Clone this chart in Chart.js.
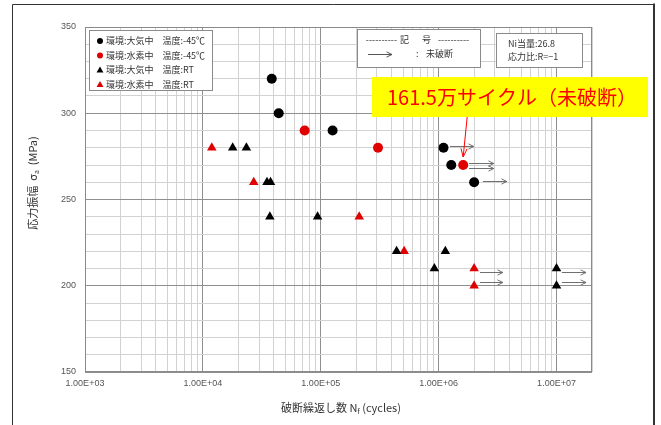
<!DOCTYPE html>
<html>
<head>
<meta charset="utf-8">
<script src="https://cdn.jsdelivr.net/npm/chart.js@4.4.0/dist/chart.umd.min.js"></script>
<style>
  html, body { margin: 0; padding: 0; background: #fff; }
  #wrap { width: 661px; height: 425px; }
</style>
</head>
<body>
<div id="wrap"><canvas id="snChart" width="661" height="425"></canvas></div>
<script>
// S-N data (N in cycles, stress amplitude in MPa)
const seriesLabels = ['環境:大気中　温度:-45℃', '環境:水素中　温度:-45℃', '環境:大気中　温度:RT', '環境:水素中　温度:RT'];

const airColdN = [3.84e4, 4.4e4, 1.26e5, 1.1e6, 1.28e6, 2.0e6];
const airColdS = [320, 300, 290, 280, 270, 260];

const h2ColdN = [7.3e4, 3.06e5, 1.615e6];
const h2ColdS = [290, 280, 270];

const airRtN = [1.79e4, 2.34e4, 3.5e4, 3.75e4, 3.7e4, 9.4e4, 4.4e5, 1.14e6, 9.2e5, 1.0e7, 1.0e7];
const airRtS = [280, 280, 260, 260, 240, 240, 220, 220, 210, 210, 200];

const h2RtN = [1.19e4, 2.7e4, 2.12e5, 5.1e5, 2.0e6, 2.0e6];
const h2RtS = [280, 260, 240, 220, 210, 200];

// run-out arrows (未破断)
const runoutFromN = [1.25e6, 1.81e6, 1.81e6, 2.38e6, 2.24e6, 2.24e6, 1.11e7, 1.11e7];
const runoutToN   = [1.99e6, 2.94e6, 2.94e6, 3.79e6, 3.51e6, 3.51e6, 1.78e7, 1.78e7];
const runoutS     = [281, 271, 268.5, 261, 208, 202, 208, 202];

const xTickValues = [1e3, 1e4, 1e5, 1e6, 1e7];
const xTickLabels = ['1.00E+03', '1.00E+04', '1.00E+05', '1.00E+06', '1.00E+07'];
const yTickLabels = ['150', '200', '250', '300', '350'];

const noteText = '161.5万サイクル（未破断）';

const tickFont = { family: "'Liberation Sans', 'Noto Sans CJK JP'", size: 9 };
const jp = "'Noto Sans CJK JP'";

// minor gridline positions for the log axis
const xGrid = [];
for (let e = 3; e < 7; e++) {
    for (let m = 1; m <= 9; m++) xGrid.push(m * Math.pow(10, e));
}
xGrid.push(1e7, 2e7);

function toPoints(ns, ss) {
    return ns.map((n, i) => ({ x: n, y: ss[i] }));
}

function drawArrow(ctx, x1, y1, x2, y2, head, spread, color) {
    const ang = Math.atan2(y2 - y1, x2 - x1);
    ctx.strokeStyle = color;
    ctx.lineWidth = 1;
    ctx.beginPath();
    ctx.moveTo(x1, y1);
    ctx.lineTo(x2, y2);
    ctx.moveTo(x2 - head * Math.cos(ang - spread), y2 - head * Math.sin(ang - spread));
    ctx.lineTo(x2, y2);
    ctx.lineTo(x2 - head * Math.cos(ang + spread), y2 - head * Math.sin(ang + spread));
    ctx.stroke();
}

function drawMarker(ctx, style, x, y, r, color) {
    ctx.fillStyle = color;
    ctx.beginPath();
    if (style === 'circle') {
        ctx.arc(x, y, r, 0, Math.PI * 2);
    } else {
        ctx.moveTo(x, y - r);
        ctx.lineTo(x + r * 0.866, y + r / 2);
        ctx.lineTo(x - r * 0.866, y + r / 2);
        ctx.closePath();
    }
    ctx.fill();
}

// draw text pieces in a row (for subscripts), centred on cx
function drawRich(ctx, parts, cx, cy) {
    let total = 0;
    parts.forEach(p => { ctx.font = p.font; p.w = ctx.measureText(p.text).width; total += p.w; });
    let x = cx - total / 2;
    ctx.textAlign = 'left';
    ctx.textBaseline = 'middle';
    parts.forEach(p => {
        ctx.font = p.font;
        ctx.fillText(p.text, x, cy + (p.dy || 0));
        x += p.w;
    });
}

const overlay = {
    id: 'overlay',
    afterDraw(chart) {
        const { ctx, chartArea: a, scales: { x, y } } = chart;
        ctx.save();

        // plot border
        ctx.strokeStyle = '#8a8a8a';
        ctx.lineWidth = 1;
        ctx.strokeRect(a.left + 0.5, a.top + 0.5, a.right - a.left - 1, a.bottom - a.top - 1);

        // run-out arrows
        runoutS.forEach((s, i) => {
            const py = Math.round(y.getPixelForValue(s)) + 0.5;
            drawArrow(ctx, x.getPixelForValue(runoutFromN[i]), py, x.getPixelForValue(runoutToN[i]), py, 6, 0.45, '#707070');
        });

        // legend box
        ctx.fillStyle = '#fff';
        ctx.fillRect(89.5, 30.5, 123, 60);
        ctx.strokeStyle = '#8a8a8a';
        ctx.strokeRect(89.5, 30.5, 123, 60);
        chart.data.datasets.forEach((ds, i) => {
            const ry = 41 + i * 14.5;
            drawMarker(ctx, ds.pointStyle, 100, ry + (ds.pointStyle === 'triangle' ? 0.5 : 0), ds.pointStyle === 'circle' ? 3 : 4, ds.backgroundColor);
            ctx.fillStyle = '#333';
            ctx.font = '9px ' + jp;
            ctx.textAlign = 'left';
            ctx.textBaseline = 'middle';
            ctx.fillText(ds.label, 106, ry);
        });

        // symbol box
        ctx.fillStyle = '#fff';
        ctx.fillRect(357.5, 29.5, 123, 38);
        ctx.strokeStyle = '#8a8a8a';
        ctx.strokeRect(357.5, 29.5, 123, 38);
        ctx.fillStyle = '#333';
        ctx.font = '9px ' + jp;
        ctx.textBaseline = 'middle';
        ctx.textAlign = 'right';
        ctx.fillText('----------', 397, 40);
        ctx.textAlign = 'left';
        ctx.fillText('----------', 438, 40);
        ctx.fillText('記', 400, 40);
        ctx.fillText('号', 422, 40);
        drawArrow(ctx, 368, 54.5, 392, 54.5, 6, 0.45, '#555');
        ctx.fillStyle = '#333';
        ctx.fillText(':', 416, 54);
        ctx.fillText('未破断', 426, 54);

        // Ni box
        ctx.fillStyle = '#fff';
        ctx.fillRect(496.5, 33.5, 86, 34);
        ctx.strokeStyle = '#8a8a8a';
        ctx.strokeRect(496.5, 33.5, 86, 34);
        ctx.fillStyle = '#333';
        ctx.font = '9px ' + jp;
        ctx.fillText('Ni当量:26.8', 508, 44);
        ctx.fillText('応力比:R=−1', 508, 57);

        // yellow callout
        ctx.fillStyle = '#ffff00';
        ctx.fillRect(372, 77, 276, 40);
        ctx.fillStyle = '#ff0000';
        ctx.font = '20px ' + jp;
        ctx.textAlign = 'left';
        ctx.fillText(noteText, 387, 97);
        const tx = x.getPixelForValue(h2ColdN[2]);
        const ty = y.getPixelForValue(h2ColdS[2]);
        drawArrow(ctx, tx + 4, 117, tx, ty - 8, 9, 0.35, '#ff0000');

        // axis titles
        ctx.fillStyle = '#333';
        ctx.save();
        ctx.translate(33, 183);
        ctx.rotate(-Math.PI / 2);
        drawRich(ctx, [
            { text: '応力振幅  σ', font: '11px ' + jp },
            { text: 'a', font: '7px ' + jp, dy: 3 },
            { text: '  (MPa)', font: '11px ' + jp }
        ], 0, 0);
        ctx.restore();
        drawRich(ctx, [
            { text: '破断繰返し数 N', font: '11px ' + jp },
            { text: 'f', font: '7px ' + jp, dy: 3 },
            { text: ' (cycles)', font: '11px ' + jp }
        ], 341, 408);

        // outer frame
        ctx.strokeStyle = '#333';
        ctx.lineWidth = 1;
        ctx.beginPath();
        ctx.moveTo(12.5, 425);
        ctx.lineTo(12.5, 4.5);
        ctx.lineTo(654, 4.5);
        ctx.stroke();
        ctx.lineWidth = 2;
        ctx.beginPath();
        ctx.moveTo(654, 3.5);
        ctx.lineTo(654, 425);
        ctx.stroke();

        ctx.restore();
    }
};

const ctx = document.querySelector('#snChart').getContext('2d');
const snChart = new Chart(ctx, {
    type: 'scatter',
    data: {
        datasets: [
            { label: seriesLabels[0], data: toPoints(airColdN, airColdS), pointStyle: 'circle', backgroundColor: '#000', borderWidth: 0, pointRadius: 5 },
            { label: seriesLabels[1], data: toPoints(h2ColdN, h2ColdS), pointStyle: 'circle', backgroundColor: '#e00000', borderWidth: 0, pointRadius: 5 },
            { label: seriesLabels[2], data: toPoints(airRtN, airRtS), pointStyle: 'triangle', backgroundColor: '#000', borderWidth: 0, pointRadius: 5.5 },
            { label: seriesLabels[3], data: toPoints(h2RtN, h2RtS), pointStyle: 'triangle', backgroundColor: '#e00000', borderWidth: 0, pointRadius: 5.5 }
        ]
    },
    options: {
        responsive: false,
        animation: false,
        devicePixelRatio: 1,
        layout: { padding: { top: 27, right: 69, left: 0, bottom: 0 } },
        scales: {
            x: {
                type: 'logarithmic',
                min: 1e3,
                max: 2e7,
                afterBuildTicks: axis => { axis.ticks = xGrid.map(v => ({ value: v })); },
                afterFit: axis => { axis.height = 53; },
                ticks: {
                    autoSkip: false,
                    maxRotation: 0,
                    padding: 6,
                    color: '#555',
                    font: tickFont,
                    callback: v => {
                        const i = xTickValues.indexOf(v);
                        return i >= 0 ? xTickLabels[i] : '';
                    }
                },
                grid: {
                    drawTicks: false,
                    color: c => Number.isInteger(Math.round(Math.log10(c.tick.value) * 1e6) / 1e6) ? '#8f8f8f' : '#d2d2d2'
                },
                border: { display: false }
            },
            y: {
                min: 150,
                max: 350,
                afterFit: axis => { axis.width = 85; },
                ticks: {
                    stepSize: 10,
                    autoSkip: false,
                    padding: 9,
                    color: '#555',
                    font: tickFont,
                    callback: v => {
                        const i = yTickLabels.indexOf(String(v));
                        return i >= 0 ? yTickLabels[i] : '';
                    }
                },
                grid: {
                    drawTicks: false,
                    color: c => c.tick.value % 50 === 0 ? '#8f8f8f' : '#d2d2d2'
                },
                border: { display: false }
            }
        },
        plugins: {
            legend: { display: false },
            tooltip: { enabled: false }
        }
    },
    plugins: [overlay]
});
</script>
</body>
</html>
